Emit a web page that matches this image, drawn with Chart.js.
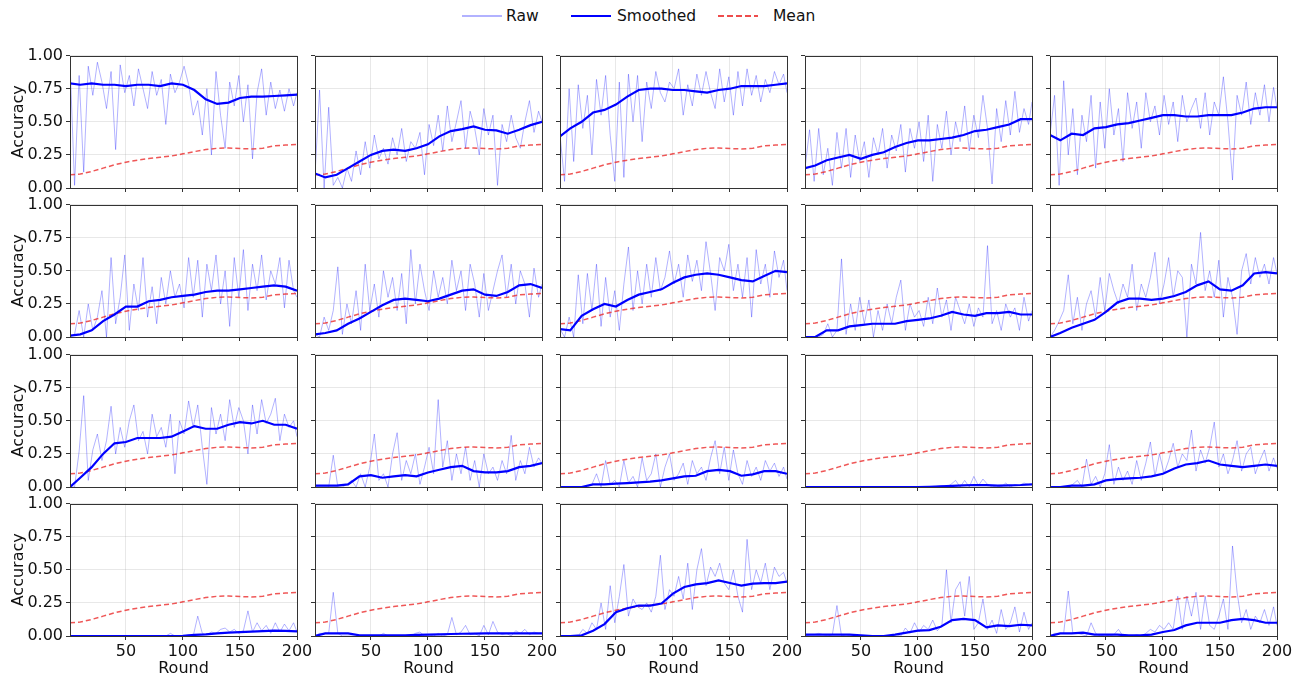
<!DOCTYPE html>
<html>
<head>
<meta charset="utf-8">
<script src="https://cdn.jsdelivr.net/npm/chart.js@4.4.1/dist/chart.umd.min.js"></script>
<style>
  body { margin: 0; background: #fff; width: 1304px; height: 677px; overflow: hidden; position: relative; font-family: "DejaVu Sans", sans-serif; }
  canvas { position: absolute; }
  .lg-text { position: absolute; top: 6px; font-size: 15.5px; line-height: 20px; color: #111; }
  .lg-line { position: absolute; top: 15px; width: 40px; }
</style>
</head>
<body>
<div class="lg-line" style="left:462px;height:1.5px;background:rgba(0,0,255,0.3)"></div>
<div class="lg-text" style="left:506px">Raw</div>
<div class="lg-line" style="left:571px;height:2px;background:#0000ff"></div>
<div class="lg-text" style="left:617px">Smoothed</div>
<div class="lg-line" style="left:718px;height:1.5px;background:repeating-linear-gradient(to right, rgba(235,45,45,0.85) 0 6px, transparent 6px 9px)"></div>
<div class="lg-text" style="left:773px">Mean</div>
<script>
/*************************************************
 * Data (rounds and accuracy per panel)
 *************************************************/
const rawRounds = [1,5,9,13,17,21,25,29,33,37,41,45,49,53,57,61,65,69,73,77,81,85,89,93,97,101,105,109,113,117,121,125,129,133,137,141,145,149,153,157,161,165,169,173,177,181,185,189,193,197,200];
const smoothRounds = [1,10,20,30,40,50,60,70,80,90,100,110,120,130,140,150,160,170,180,190,200];
const xTicks = [50, 100, 150, 200];
const yTicks = [0, 0.25, 0.5, 0.75, 1.0];

// mean accuracy, same in every panel
const meanAcc = [0.10,0.105,0.125,0.15,0.175,0.195,0.21,0.222,0.232,0.242,0.258,0.275,0.29,0.30,0.302,0.298,0.295,0.30,0.318,0.325,0.328];

// row 1
const raw00 = [0.95,0.02,0.85,0.12,0.92,0.70,0.95,0.80,0.60,0.88,0.29,0.93,0.72,0.85,0.62,0.90,0.75,0.60,0.88,0.70,0.82,0.48,0.86,0.72,0.80,0.92,0.78,0.55,0.66,0.40,0.75,0.25,0.88,0.55,0.30,0.80,0.62,0.85,0.50,0.78,0.22,0.72,0.90,0.55,0.80,0.60,0.74,0.58,0.75,0.62,0.72];
const smooth00 = [0.79,0.78,0.79,0.78,0.78,0.77,0.78,0.78,0.77,0.79,0.78,0.74,0.67,0.635,0.645,0.68,0.69,0.69,0.695,0.70,0.705];
const raw01 = [0.10,0.74,0.00,0.61,0.02,0.08,0.00,0.15,0.05,0.28,0.10,0.35,0.15,0.40,0.22,0.30,0.18,0.38,0.25,0.45,0.20,0.35,0.30,0.42,0.10,0.48,0.32,0.55,0.28,0.62,0.35,0.50,0.66,0.30,0.58,0.45,0.25,0.60,0.40,0.55,0.02,0.48,0.35,0.55,0.38,0.30,0.50,0.66,0.42,0.58,0.50];
const smooth01 = [0.11,0.08,0.10,0.15,0.20,0.25,0.28,0.29,0.28,0.30,0.33,0.39,0.43,0.445,0.465,0.44,0.435,0.41,0.44,0.475,0.50];
const raw02 = [0.40,0.05,0.75,0.20,0.78,0.45,0.70,0.25,0.82,0.55,0.85,0.40,0.05,0.80,0.08,0.86,0.50,0.85,0.35,0.80,0.60,0.88,0.72,0.65,0.80,0.75,0.90,0.55,0.78,0.62,0.86,0.70,0.88,0.72,0.60,0.90,0.65,0.84,0.55,0.88,0.62,0.90,0.70,0.85,0.65,0.82,0.72,0.88,0.78,0.86,0.72];
const smooth02 = [0.39,0.45,0.50,0.57,0.59,0.63,0.69,0.74,0.75,0.75,0.74,0.74,0.73,0.72,0.74,0.75,0.77,0.77,0.77,0.78,0.79];
const raw03 = [0.15,0.44,0.05,0.45,0.10,0.30,0.02,0.42,0.15,0.45,0.08,0.40,0.20,0.35,0.08,0.38,0.25,0.45,0.15,0.40,0.28,0.48,0.12,0.45,0.30,0.50,0.20,0.55,0.05,0.48,0.30,0.58,0.25,0.50,0.35,0.62,0.28,0.55,0.38,0.70,0.45,0.03,0.60,0.35,0.66,0.40,0.73,0.42,0.60,0.48,0.65];
const smooth03 = [0.15,0.17,0.21,0.23,0.25,0.22,0.25,0.27,0.31,0.34,0.36,0.36,0.37,0.38,0.40,0.43,0.44,0.46,0.48,0.52,0.52];
const raw04 = [0.40,0.70,0.02,0.81,0.25,0.60,0.10,0.55,0.35,0.70,0.15,0.65,0.30,0.75,0.40,0.60,0.20,0.72,0.45,0.65,0.30,0.72,0.50,0.62,0.40,0.70,0.48,0.65,0.35,0.70,0.50,0.60,0.68,0.45,0.72,0.40,0.65,0.55,0.84,0.50,0.06,0.70,0.55,0.80,0.48,0.72,0.55,0.78,0.50,0.76,0.60];
const smooth04 = [0.40,0.36,0.41,0.40,0.45,0.46,0.48,0.49,0.51,0.53,0.55,0.55,0.54,0.54,0.55,0.55,0.55,0.57,0.60,0.61,0.61];

// row 2
const raw10 = [0.00,0.02,0.20,0.00,0.25,0.05,0.15,0.35,0.00,0.60,0.10,0.30,0.62,0.05,0.40,0.20,0.60,0.15,0.38,0.10,0.45,0.25,0.50,0.30,0.40,0.22,0.60,0.30,0.58,0.15,0.55,0.35,0.62,0.25,0.50,0.08,0.60,0.30,0.66,0.20,0.55,0.35,0.62,0.28,0.50,0.40,0.60,0.22,0.58,0.35,0.30];
const smooth10 = [0.01,0.02,0.05,0.12,0.17,0.23,0.23,0.27,0.28,0.30,0.31,0.32,0.34,0.35,0.35,0.36,0.37,0.38,0.39,0.38,0.35];
const raw11 = [0.02,0.00,0.15,0.05,0.20,0.53,0.02,0.25,0.10,0.35,0.05,0.55,0.20,0.40,0.15,0.50,0.30,0.45,0.20,0.48,0.10,0.66,0.25,0.55,0.35,0.20,0.50,0.30,0.45,0.25,0.58,0.35,0.50,0.20,0.55,0.40,0.15,0.48,0.20,0.35,0.50,0.62,0.30,0.55,0.25,0.50,0.40,0.15,0.52,0.30,0.40];
const smooth11 = [0.02,0.03,0.05,0.10,0.14,0.19,0.24,0.28,0.29,0.28,0.27,0.29,0.32,0.35,0.36,0.32,0.31,0.34,0.39,0.40,0.37];
const raw12 = [0.06,0.00,0.15,0.00,0.47,0.10,0.48,0.20,0.55,0.08,0.45,0.15,0.35,0.05,0.40,0.68,0.20,0.50,0.25,0.55,0.30,0.60,0.35,0.45,0.65,0.40,0.55,0.30,0.62,0.42,0.58,0.35,0.72,0.48,0.20,0.60,0.50,0.70,0.35,0.55,0.30,0.60,0.15,0.66,0.40,0.55,0.30,0.65,0.45,0.58,0.35];
const smooth12 = [0.06,0.05,0.16,0.21,0.25,0.23,0.28,0.32,0.34,0.36,0.41,0.45,0.47,0.48,0.47,0.45,0.43,0.42,0.46,0.50,0.49];
const raw13 = [0.00,0.00,0.00,0.00,0.02,0.10,0.00,0.05,0.59,0.02,0.25,0.05,0.30,0.10,0.28,0.00,0.20,0.05,0.25,0.10,0.30,0.43,0.05,0.25,0.15,0.20,0.08,0.30,0.10,0.37,0.15,0.28,0.05,0.30,0.20,0.10,0.25,0.08,0.22,0.15,0.69,0.10,0.20,0.05,0.25,0.15,0.22,0.05,0.30,0.12,0.20];
const smooth13 = [0.00,0.00,0.05,0.05,0.08,0.09,0.10,0.10,0.10,0.12,0.13,0.14,0.16,0.19,0.17,0.16,0.18,0.18,0.19,0.17,0.17];
const raw14 = [0.00,0.05,0.12,0.20,0.47,0.10,0.30,0.05,0.25,0.35,0.15,0.45,0.20,0.48,0.35,0.25,0.40,0.30,0.55,0.20,0.40,0.30,0.45,0.64,0.25,0.40,0.60,0.30,0.50,0.45,0.00,0.55,0.40,0.79,0.35,0.50,0.30,0.58,0.15,0.45,0.30,0.02,0.50,0.63,0.40,0.60,0.45,0.55,0.40,0.60,0.48];
const smooth14 = [0.00,0.03,0.07,0.10,0.13,0.19,0.26,0.29,0.29,0.28,0.29,0.31,0.34,0.39,0.42,0.36,0.35,0.39,0.48,0.49,0.48];

// row 3
const raw20 = [0.00,0.00,0.27,0.69,0.05,0.28,0.40,0.20,0.35,0.61,0.25,0.45,0.30,0.50,0.62,0.35,0.42,0.25,0.55,0.38,0.45,0.30,0.55,0.10,0.50,0.40,0.65,0.45,0.62,0.30,0.02,0.60,0.40,0.55,0.35,0.66,0.45,0.60,0.50,0.25,0.62,0.40,0.66,0.48,0.55,0.67,0.35,0.55,0.45,0.50,0.38];
const smooth20 = [0.00,0.07,0.15,0.25,0.33,0.34,0.37,0.37,0.37,0.38,0.42,0.46,0.44,0.44,0.47,0.49,0.48,0.50,0.47,0.47,0.44];
const raw21 = [0.00,0.00,0.00,0.00,0.24,0.00,0.00,0.02,0.05,0.00,0.10,0.00,0.15,0.40,0.05,0.10,0.00,0.25,0.41,0.05,0.20,0.10,0.25,0.02,0.15,0.30,0.10,0.66,0.15,0.35,0.05,0.25,0.10,0.30,0.05,0.20,0.00,0.25,0.10,0.15,0.05,0.20,0.10,0.39,0.05,0.20,0.10,0.30,0.15,0.22,0.18];
const smooth21 = [0.01,0.01,0.01,0.02,0.08,0.09,0.07,0.08,0.09,0.08,0.11,0.13,0.15,0.16,0.12,0.11,0.11,0.12,0.15,0.16,0.18];
const raw22 = [0.00,0.00,0.00,0.00,0.00,0.00,0.00,0.02,0.10,0.00,0.20,0.02,0.05,0.00,0.20,0.03,0.08,0.00,0.22,0.05,0.10,0.25,0.00,0.15,0.25,0.05,0.10,0.18,0.02,0.20,0.10,0.15,0.05,0.22,0.35,0.10,0.30,0.05,0.28,0.10,0.02,0.20,0.08,0.15,0.05,0.20,0.12,0.18,0.08,0.15,0.06];
const smooth22 = [0.00,0.00,0.00,0.02,0.02,0.025,0.03,0.035,0.04,0.05,0.065,0.08,0.085,0.12,0.13,0.12,0.085,0.095,0.12,0.12,0.10];
const raw23 = [0,0,0,0,0,0,0,0,0,0,0,0,0,0,0,0,0,0,0,0,0,0,0,0,0,0,0,0,0,0.005,0.01,0,0.02,0.05,0,0.05,0,0.08,0.01,0.06,0.02,0,0.01,0,0.03,0,0.02,0.01,0.03,0.02,0.02];
const smooth23 = [0,0,0,0,0,0,0,0,0,0,0,0.002,0.005,0.008,0.012,0.015,0.014,0.01,0.012,0.015,0.02];
const raw24 = [0.00,0.00,0.00,0.00,0.00,0.02,0.05,0.00,0.21,0.02,0.08,0.00,0.10,0.32,0.02,0.15,0.05,0.12,0.02,0.20,0.05,0.18,0.34,0.08,0.25,0.10,0.20,0.33,0.15,0.25,0.20,0.43,0.12,0.28,0.18,0.30,0.49,0.15,0.25,0.10,0.20,0.35,0.12,0.25,0.30,0.10,0.20,0.28,0.12,0.22,0.14];
const smooth24 = [0.00,0.00,0.01,0.01,0.02,0.05,0.06,0.065,0.07,0.08,0.10,0.14,0.17,0.18,0.20,0.17,0.16,0.15,0.16,0.17,0.16];

// row 4
const raw30 = [0,0,0,0,0,0,0,0,0,0,0,0,0,0,0,0,0,0,0,0,0,0,0.02,0,0,0,0.01,0,0.15,0.02,0.01,0.03,0.02,0.05,0.06,0.03,0.05,0.02,0.04,0.19,0.03,0.10,0.04,0.08,0.02,0.10,0.03,0.09,0.04,0.10,0.03];
const smooth30 = [0,0,0,0,0,0,0,0,0,0,0.002,0.008,0.012,0.02,0.025,0.03,0.033,0.037,0.04,0.038,0.035];
const raw31 = [0.00,0.02,0.02,0.02,0.33,0.02,0.00,0.00,0.00,0.00,0.00,0.00,0.00,0.00,0.00,0.02,0.00,0.00,0.00,0.00,0.00,0.00,0.02,0.03,0.00,0.01,0.00,0.02,0.00,0.01,0.14,0.01,0.03,0.08,0.01,0.02,0.00,0.08,0.01,0.11,0.03,0.01,0.02,0.00,0.04,0.02,0.05,0.01,0.03,0.02,0.02];
const smooth31 = [0.00,0.02,0.02,0.02,0.005,0.005,0.005,0.005,0.005,0.008,0.01,0.012,0.015,0.017,0.018,0.02,0.02,0.02,0.02,0.02,0.02];
const raw32 = [0.00,0.00,0.00,0.00,0.00,0.05,0.02,0.10,0.05,0.25,0.05,0.38,0.10,0.30,0.54,0.15,0.28,0.22,0.20,0.25,0.18,0.30,0.61,0.20,0.35,0.30,0.45,0.28,0.55,0.20,0.50,0.66,0.38,0.52,0.45,0.55,0.40,0.35,0.50,0.30,0.18,0.73,0.35,0.50,0.40,0.55,0.35,0.52,0.45,0.48,0.40];
const smooth32 = [0.00,0.00,0.005,0.04,0.09,0.18,0.21,0.23,0.23,0.245,0.32,0.37,0.39,0.40,0.42,0.40,0.38,0.395,0.40,0.40,0.41];
const raw33 = [0.00,0.01,0.01,0.02,0.01,0.00,0.01,0.23,0.00,0.01,0.00,0.00,0.00,0.00,0.00,0.00,0.00,0.00,0.00,0.00,0.01,0.00,0.06,0.02,0.10,0.03,0.08,0.05,0.12,0.04,0.08,0.50,0.10,0.35,0.41,0.15,0.45,0.05,0.10,0.28,0.05,0.12,0.02,0.20,0.05,0.10,0.22,0.03,0.18,0.05,0.10];
const smooth33 = [0.01,0.01,0.01,0.01,0.01,0.005,0.00,0.00,0.01,0.025,0.04,0.045,0.07,0.12,0.13,0.12,0.065,0.08,0.075,0.085,0.08];
const raw34 = [0.00,0.02,0.02,0.02,0.34,0.02,0.02,0.01,0.00,0.10,0.02,0.00,0.01,0.00,0.01,0.05,0.00,0.00,0.00,0.01,0.00,0.02,0.05,0.03,0.08,0.05,0.10,0.05,0.30,0.05,0.30,0.15,0.33,0.05,0.30,0.08,0.05,0.15,0.28,0.05,0.68,0.33,0.10,0.20,0.05,0.15,0.10,0.20,0.08,0.22,0.08];
const smooth34 = [0.00,0.02,0.02,0.025,0.01,0.01,0.01,0.005,0.005,0.01,0.03,0.045,0.08,0.10,0.10,0.10,0.12,0.13,0.12,0.10,0.10];

const panels = [
  [[raw00, smooth00], [raw01, smooth01], [raw02, smooth02], [raw03, smooth03], [raw04, smooth04]],
  [[raw10, smooth10], [raw11, smooth11], [raw12, smooth12], [raw13, smooth13], [raw14, smooth14]],
  [[raw20, smooth20], [raw21, smooth21], [raw22, smooth22], [raw23, smooth23], [raw24, smooth24]],
  [[raw30, smooth30], [raw31, smooth31], [raw32, smooth32], [raw33, smooth33], [raw34, smooth34]]
];

/*************************************************
 * Layout
 *************************************************/
const PLOT_W = 227, PLOT_H = 133;
const COL_X0 = 70, COL_STEP = 245;
const ROW_Y0 = 55, ROW_STEP = 149.3;
const Y_W = 61, X_H = 42, PAD_T = 12, PAD_R = 20;

const tickFont = { family: "DejaVu Sans", size: 16 };
const gridColor = "rgba(160,160,160,0.3)";

const pairs = (xs, ys) => ys.map((y, i) => ({ x: xs[i], y: y }));

// full box around each plot, like matplotlib spines
const frame = {
  id: "frame",
  afterDraw(chart) {
    const a = chart.chartArea, ctx = chart.ctx;
    ctx.save();
    ctx.strokeStyle = "#333";
    ctx.lineWidth = 1;
    ctx.strokeRect(Math.round(a.left) + 0.5, Math.round(a.top) + 0.5,
      Math.round(a.right - a.left), Math.round(a.bottom - a.top));
    ctx.restore();
  }
};

function makePanel(r, c, raw, smooth) {
  const left = COL_X0 + c * COL_STEP;
  const top = Math.round(ROW_Y0 + r * ROW_STEP);
  const w = PLOT_W + Y_W + PAD_R, h = PLOT_H + PAD_T + X_H;

  const cv = document.createElement("canvas");
  cv.width = w; cv.height = h;
  cv.style.width = w + "px"; cv.style.height = h + "px";
  cv.style.left = (left - Y_W) + "px";
  cv.style.top = (top - PAD_T) + "px";
  document.body.appendChild(cv);

  const firstCol = c === 0, lastRow = r === 3;

  new Chart(cv, {
    type: "line",
    data: {
      datasets: [
        {
          label: "Smoothed",
          data: pairs(smoothRounds, smooth),
          borderColor: "#0000ff",
          borderWidth: 2.2,
          order: 0
        },
        {
          label: "Mean",
          data: pairs(smoothRounds, meanAcc),
          borderColor: "rgba(235,45,45,0.8)",
          borderWidth: 1.5,
          borderDash: [5, 3],
          order: 1
        },
        {
          label: "Raw",
          data: pairs(rawRounds, raw),
          borderColor: "rgba(0,0,255,0.3)",
          borderWidth: 1,
          order: 2
        }
      ]
    },
    options: {
      responsive: false,
      animation: false,
      devicePixelRatio: 1,
      layout: { padding: { top: PAD_T, right: PAD_R, left: 0, bottom: 0 } },
      elements: { point: { radius: 0 }, line: { tension: 0 } },
      plugins: { legend: { display: false }, tooltip: { enabled: false } },
      scales: {
        x: {
          type: "linear",
          min: 1,
          max: 200,
          afterBuildTicks: s => { s.ticks = xTicks.map(v => ({ value: v })); },
          afterFit: s => { s.height = X_H; },
          border: { display: false },
          grid: { color: gridColor, lineWidth: 0.8, tickLength: 4, tickColor: "#333", tickWidth: 1 },
          ticks: {
            font: tickFont, color: "#111", padding: 2, maxRotation: 0, autoSkip: false,
            callback: v => (lastRow ? String(v) : "")
          },
          title: { display: lastRow, text: "Round", font: tickFont, color: "#111", padding: { top: 0, bottom: 0 } }
        },
        y: {
          min: 0,
          max: 1,
          afterBuildTicks: s => { s.ticks = yTicks.map(v => ({ value: v })); },
          afterFit: s => { s.width = Y_W; },
          border: { display: false },
          grid: { color: gridColor, lineWidth: 0.8, tickLength: 4, tickColor: "#333", tickWidth: 1 },
          ticks: {
            font: tickFont, color: "#111", padding: 3,
            callback: v => (firstCol ? Number(v).toFixed(2) : "")
          },
          title: { display: firstCol, text: "Accuracy", font: tickFont, color: "#111", padding: { top: 0, bottom: 4 } }
        }
      }
    },
    plugins: [frame]
  });
}

for (let r = 0; r < panels.length; r++) {
  for (let c = 0; c < panels[r].length; c++) {
    makePanel(r, c, panels[r][c][0], panels[r][c][1]);
  }
}
</script>
</body>
</html>
